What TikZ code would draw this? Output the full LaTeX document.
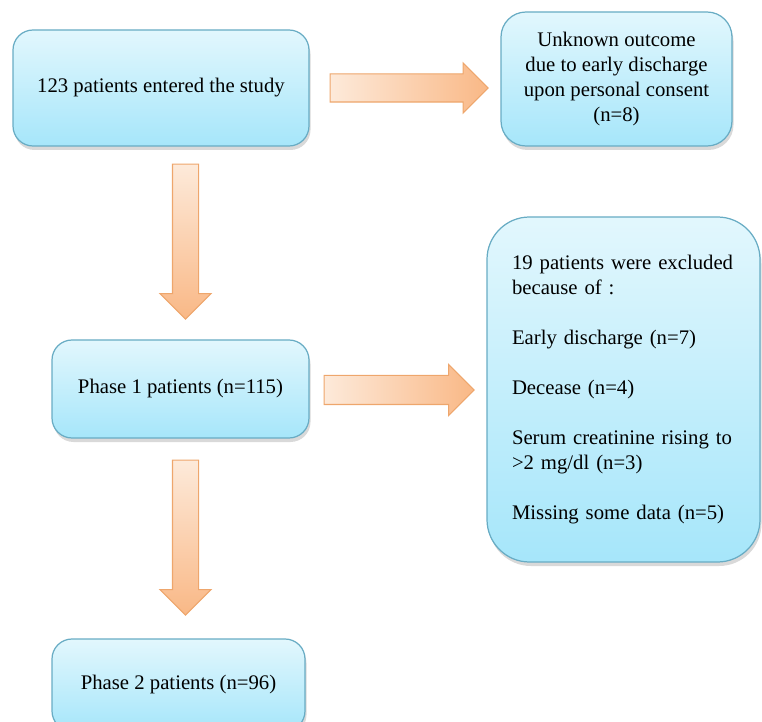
\documentclass[tikz,border=0pt]{standalone}
\usepackage{fontspec}
\setmainfont{Liberation Serif}
\usetikzlibrary{shapes.arrows,shadows}
\definecolor{boxtop}{RGB}{226,247,253}
\definecolor{boxbottom}{RGB}{166,230,250}
\definecolor{boxline}{RGB}{104,172,196}
\definecolor{arrowlight}{RGB}{253,234,218}
\definecolor{arrowdark}{RGB}{249,184,134}
\definecolor{arrowline}{RGB}{238,166,108}

\tikzset{
  flowbox/.style={draw=boxline, line width=0.7pt, rounded corners=0.4cm,
    top color=boxtop, bottom color=boxbottom,
    drop shadow={shadow xshift=0.03cm, shadow yshift=-0.08cm, opacity=0.3},
    font=\fontsize{11.8}{14.2}\selectfont, align=center, inner sep=0pt},
  rightarrow/.style={single arrow, draw=arrowline, line width=0.6pt,
    left color=arrowlight, right color=arrowdark, inner sep=0.27cm,
    minimum width=0.99cm, single arrow head extend=0.22cm, anchor=tail},
  downarrow/.style={single arrow, shape border rotate=270, draw=arrowline, line width=0.6pt,
    top color=arrowlight, bottom color=arrowdark, inner sep=0.25cm,
    minimum width=1cm, single arrow head extend=0.25cm, anchor=tail}
}

\begin{document}
\begin{tikzpicture}
            \useasboundingbox (0,0) rectangle (15.24,-14.44);
            \clip (0,0) rectangle (15.24,-14.44);

            % boxes
            \node[flowbox, minimum width=5.92cm, minimum height=2.32cm] (entered) at (3.22,-1.76) {123 patients entered the study};
            \node[flowbox, minimum width=4.62cm, minimum height=2.68cm, rounded corners=0.5cm] (unknown) at (12.33,-1.58) {Unknown outcome\\due to early discharge\\upon personal consent\\(n=8)};
            \node[flowbox, minimum width=5.14cm, minimum height=1.96cm] (phaseone) at (3.61,-7.78) {Phase 1 patients (n=115)};
            \node[flowbox, minimum width=5.46cm, minimum height=6.9cm, rounded corners=0.85cm, align=left, text width=4.46cm, inner xsep=0.5cm] (excluded) at (12.47,-7.79) {19 patients were excluded\\because of :\\[14.2pt]Early discharge (n=7)\\[14.2pt]Decease (n=4)\\[14.2pt]Serum creatinine rising to\\>2 mg/dl (n=3)\\[14.2pt]Missing some data (n=5)};
            \node[flowbox, minimum width=5.06cm, minimum height=1.84cm] (phasetwo) at (3.57,-13.7) {Phase 2 patients (n=96)};

            % block arrows
            \node[rightarrow, minimum height=3.16cm] (toUnknown) at ([xshift=0.4cm]entered.east) {};
            \node[rightarrow, minimum height=3cm, inner sep=0.28cm] (toExcluded) at ([xshift=0.28cm, yshift=-0.02cm]phaseone.east) {};
            \node[downarrow, minimum height=3.1cm] (toPhaseone) at ([xshift=0.49cm, yshift=-0.34cm]entered.south) {};
            \node[downarrow, minimum height=3.1cm] (toPhasetwo) at ([xshift=0.1cm, yshift=-0.42cm]phaseone.south) {};

\end{tikzpicture}
\end{document}
